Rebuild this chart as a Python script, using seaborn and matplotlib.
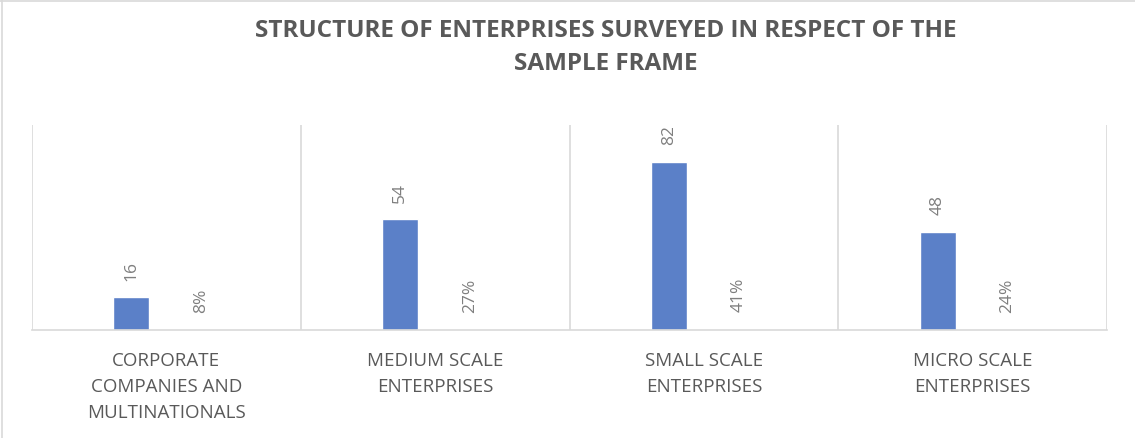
import pandas as pd
import matplotlib.pyplot as plt
import seaborn as sns
from matplotlib.lines import Line2D

# Données
categories = [
    "CORPORATE\nCOMPANIES AND\nMULTINATIONALS",
    "MEDIUM SCALE\nENTERPRISES",
    "SMALL SCALE\nENTERPRISES",
    "MICRO SCALE\nENTERPRISES",
]
counts = [16, 54, 82, 48]
shares = [0.08, 0.27, 0.41, 0.24]

df = pd.DataFrame(
    {
        "Category": categories * 2,
        "Series": ["Number"] * 4 + ["Share"] * 4,
        "Value": counts + shares,
    }
)

sns.set_style("white")
plt.rcParams["font.family"] = ["Open Sans", "DejaVu Sans"]

fig = plt.figure(figsize=(11.35, 4.38), dpi=100)
ax = fig.add_axes([32 / 1135, 108 / 438, 1075 / 1135, 205 / 438])

sns.barplot(
    data=df,
    x="Category",
    y="Value",
    hue="Series",
    order=categories,
    hue_order=["Number", "Share"],
    palette=["#5B80C8", "#A9BCE4"],
    width=0.52,
    gap=0.485,
    saturation=1,
    legend=False,
    ax=ax,
)

ax.set_ylim(0, 100)
ax.set_xlim(-0.5, 3.5)
ax.set_xlabel("")
ax.set_ylabel("")
ax.set_yticks([])

# Séparateurs verticaux entre catégories
for x in [-0.5, 0.5, 1.5, 2.5, 3.5]:
    ax.axvline(x, color="#D9D9D9", linewidth=1.2, zorder=0)

for side in ["top", "left", "right"]:
    ax.spines[side].set_visible(False)
ax.spines["bottom"].set_color("#D9D9D9")
ax.spines["bottom"].set_linewidth(1.2)

ax.tick_params(axis="x", length=0, pad=16)
for lbl in ax.get_xticklabels():
    lbl.set_fontsize(13.5)
    lbl.set_color("#595959")
    lbl.set_linespacing(1.55)

# Étiquettes de données
ax.bar_label(
    ax.containers[0],
    labels=[str(c) for c in counts],
    padding=12,
    rotation=90,
    fontsize=12.5,
    color="#7F7F7F",
)
ax.bar_label(
    ax.containers[1],
    labels=[f"{s:.0%}" for s in shares],
    padding=12,
    rotation=90,
    fontsize=12.5,
    color="#7F7F7F",
)

# Titre
fig.text(
    606 / 1135,
    1 - 19 / 438,
    "STRUCTURE OF ENTERPRISES SURVEYED IN RESPECT OF THE\nSAMPLE FRAME",
    ha="center",
    va="top",
    fontsize=17.5,
    fontweight="bold",
    color="#595959",
    linespacing=1.5,
)

# Cadre extérieur
fig.add_artist(Line2D([2 / 1135, 2 / 1135], [0, 1], color="#D9D9D9", lw=1.2))
fig.add_artist(Line2D([0, 1], [1 - 0.5 / 438, 1 - 0.5 / 438], color="#D9D9D9", lw=1.2))

fig.savefig("out.png", dpi=100)
